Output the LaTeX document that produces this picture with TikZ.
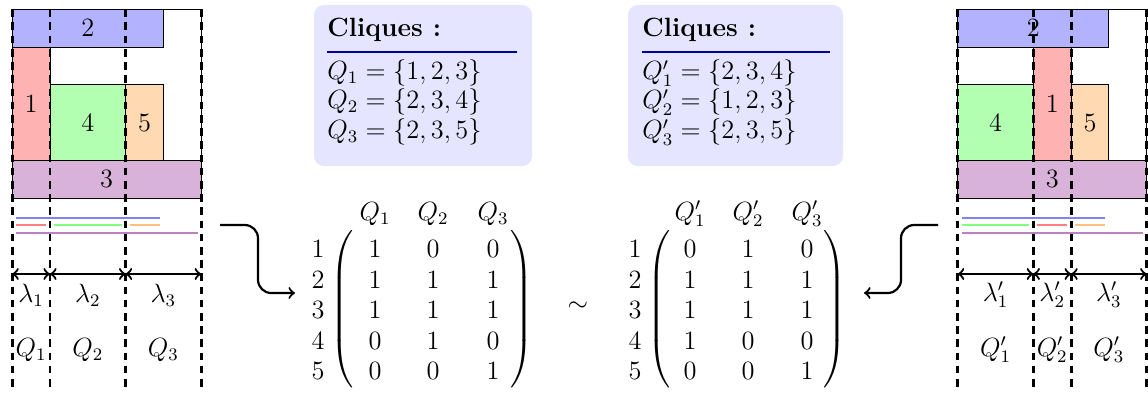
\documentclass[tikz,border=0pt]{standalone}
\usepackage{amsmath}
\begin{document}
\begin{tikzpicture}[x=0.4545pt,y=-0.4545pt,font=\large]
\tikzset{
  sq/.style={draw=black,line width=0.4pt},
  dline/.style={dash pattern=on 3.5pt off 2.5pt,line width=1.3pt},
  seg/.style={line width=1pt},
  iv/.style={<->,line width=1pt},
  hookarrow/.style={->,line width=1pt,rounded corners=6pt},
  cbox/.style={fill=blue!10,rounded corners=4.5pt},
  cline/.style={draw=blue!60!black,line width=1pt},
  paren/.style={inner sep=0pt},
}
\useasboundingbox (0,0) rectangle (1148,393);

% ---------- left interval model ----------
\filldraw[sq,fill=blue!30]   (12.2,9.3)   rectangle (163.4,47.1);
\filldraw[sq,fill=red!30]    (12.2,47.1)  rectangle (50,160.5);
\filldraw[sq,fill=green!30]  (50,84.9)    rectangle (125.6,160.5);
\filldraw[sq,fill=orange!30] (125.6,84.9) rectangle (163.4,160.5);
\filldraw[sq,fill=violet!30] (12.2,160.5) rectangle (201.2,198.3);
\draw[sq] (12.2,9.3) rectangle (201.2,198.3);
\node (L2) at (87.8,28.2) {2};
\node (L1) at (31.1,103.8) {1};
\node (L4) at (87.8,122.7) {4};
\node (L5) at (144.5,122.7) {5};
\node (L3) at (106.7,179.4) {3};
\foreach \x in {12.2,50,125.6,201.2} \draw[dline] (\x,9.3) -- (\x,389);
\draw[seg,blue!50]   (16,217.7) -- (160,217.7);
\draw[seg,red!50]    (16,225.3) -- (46,225.3);
\draw[seg,green!50]  (54,225.3) -- (122,225.3);
\draw[seg,orange!50] (130,225.3) -- (160,225.3);
\draw[seg,violet!50] (16,232.7) -- (198,232.7);
\coordinate (la0) at (12.2,274);
\coordinate (la1) at (50,274);
\coordinate (la2) at (125.6,274);
\coordinate (la3) at (201.2,274);
\draw[iv] (la0) -- (la1);
\draw[iv] (la1) -- (la2);
\draw[iv] (la2) -- (la3);
\node (lam1) at (31.1,295) {$\lambda_1$};
\node (lam2) at (87.8,295) {$\lambda_2$};
\node (lam3) at (163.4,295) {$\lambda_3$};
\node (lq1) at (31.1,350) {$Q_1$};
\node (lq2) at (87.8,350) {$Q_2$};
\node (lq3) at (163.4,350) {$Q_3$};

% ---------- right interval model ----------
\filldraw[sq,fill=blue!30]   (957.7,9.3)   rectangle (1108.9,47.1);
\filldraw[sq,fill=red!30]    (1033.3,47.1) rectangle (1071.1,160.5);
\filldraw[sq,fill=green!30]  (957.7,84.9)  rectangle (1033.3,160.5);
\filldraw[sq,fill=orange!30] (1071.1,84.9) rectangle (1108.9,160.5);
\filldraw[sq,fill=violet!30] (957.7,160.5) rectangle (1146.7,198.3);
\draw[sq] (957.7,9.3) rectangle (1146.7,198.3);
\node (R2) at (1033.3,28.2) {2};
\node (R1) at (1052.2,103.8) {1};
\node (R4) at (995.5,122.7) {4};
\node (R5) at (1090,122.7) {5};
\node (R3) at (1052.2,179.4) {3};
\foreach \x in {957.7,1033.3,1071.1,1146.7} \draw[dline] (\x,9.3) -- (\x,389);
\draw[seg,blue!50]   (962,217.7) -- (1105,217.7);
\draw[seg,green!50]  (962,225.3) -- (1029,225.3);
\draw[seg,red!50]    (1037,225.3) -- (1067,225.3);
\draw[seg,orange!50] (1075,225.3) -- (1105,225.3);
\draw[seg,violet!50] (962,232.7) -- (1143,232.7);
\coordinate (ra0) at (957.7,274);
\coordinate (ra1) at (1033.3,274);
\coordinate (ra2) at (1071.1,274);
\coordinate (ra3) at (1146.7,274);
\draw[iv] (ra0) -- (ra1);
\draw[iv] (ra1) -- (ra2);
\draw[iv] (ra2) -- (ra3);
\node (rlam1) at (995.5,295) {$\lambda'_1$};
\node (rlam2) at (1052.2,295) {$\lambda'_2$};
\node (rlam3) at (1108.9,295) {$\lambda'_3$};
\node (rq1) at (995.5,350) {$Q'_1$};
\node (rq2) at (1052.2,350) {$Q'_2$};
\node (rq3) at (1108.9,350) {$Q'_3$};

% ---------- hook arrows ----------
\coordinate (h1s) at (220,225);
\coordinate (h1e) at (295,293);
\draw[hookarrow] (h1s) -- (258,225) -- (258,293) -- (h1e);
\coordinate (h2s) at (938,225);
\coordinate (h2e) at (864,293);
\draw[hookarrow] (h2s) -- (901,225) -- (901,293) -- (h2e);

% ---------- clique boxes ----------
\fill[cbox] (314,5) rectangle (532,166);
\node[anchor=base west,inner sep=0pt] (c1t) at (327,37) {\bfseries Cliques :};
\draw[cline] (327,52) -- (517,52);
\node[anchor=west,inner sep=0pt] (c1a) at (327,73)  {$Q_1=\{1,2,3\}$};
\node[anchor=west,inner sep=0pt] (c1b) at (327,102) {$Q_2=\{2,3,4\}$};
\node[anchor=west,inner sep=0pt] (c1c) at (327,132) {$Q_3=\{2,3,5\}$};

\fill[cbox] (628,5) rectangle (843,166);
\node[anchor=base west,inner sep=0pt] (c2t) at (642,37) {\bfseries Cliques :};
\draw[cline] (642,52) -- (830,52);
\node[anchor=west,inner sep=0pt] (c2a) at (642,73)  {$Q'_1=\{2,3,4\}$};
\node[anchor=west,inner sep=0pt] (c2b) at (642,102) {$Q'_2=\{1,2,3\}$};
\node[anchor=west,inner sep=0pt] (c2c) at (642,132) {$Q'_3=\{2,3,5\}$};

% ---------- matrix 1 ----------
\node (m1h1) at (375,214) {$Q_1$};
\node (m1h2) at (433,214) {$Q_2$};
\node (m1h3) at (493,214) {$Q_3$};
\node[paren] (m1pl) at (343,312) {$\left(\vrule height 35.5pt depth 35.5pt width 0pt\right.$};
\node[paren] (m1pr) at (521,312) {$\left.\vrule height 35.5pt depth 35.5pt width 0pt\right)$};
\foreach \r/\a/\b/\c in {1/1/0/0,2/1/1/1,3/1/1/1,4/0/1/0,5/0/0/1}{
  \node (m1r\r) at (318,{218.5+30.5*\r}) {$\r$};
  \node (m1e\r a) at (375,{218.5+30.5*\r}) {$\a$};
  \node (m1e\r b) at (433,{218.5+30.5*\r}) {$\b$};
  \node (m1e\r c) at (493,{218.5+30.5*\r}) {$\c$};
}
\node (sim) at (578,307) {$\sim$};

% ---------- matrix 2 ----------
\node (m2h1) at (690,214) {$Q'_1$};
\node (m2h2) at (748,214) {$Q'_2$};
\node (m2h3) at (807,214) {$Q'_3$};
\node[paren] (m2pl) at (660,312) {$\left(\vrule height 35.5pt depth 35.5pt width 0pt\right.$};
\node[paren] (m2pr) at (834,312) {$\left.\vrule height 35.5pt depth 35.5pt width 0pt\right)$};
\foreach \r/\a/\b/\c in {1/0/1/0,2/1/1/1,3/1/1/1,4/1/0/0,5/0/0/1}{
  \node (m2r\r) at (635,{218.5+30.5*\r}) {$\r$};
  \node (m2e\r a) at (690,{218.5+30.5*\r}) {$\a$};
  \node (m2e\r b) at (748,{218.5+30.5*\r}) {$\b$};
  \node (m2e\r c) at (807,{218.5+30.5*\r}) {$\c$};
}
\end{tikzpicture}
\end{document}
